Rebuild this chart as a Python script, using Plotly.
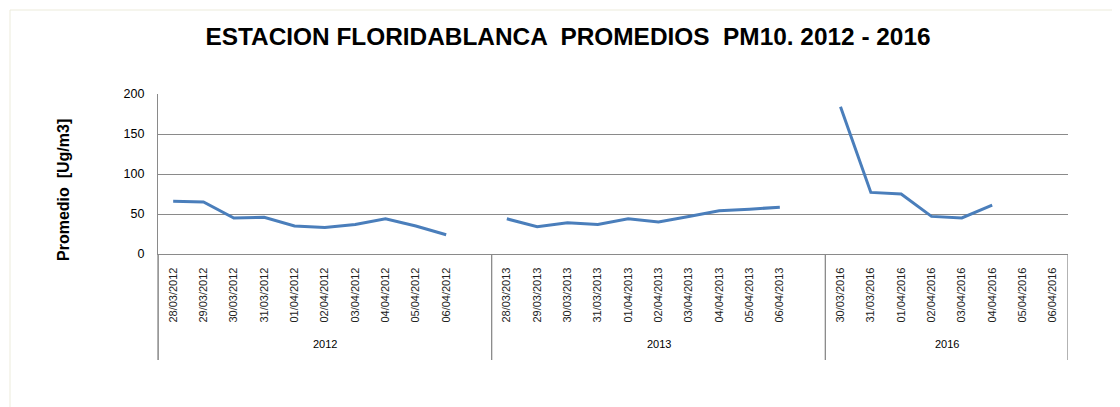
import plotly.graph_objects as go

# ---------------- data ----------------
years = ["2012", "2013", "2016"]

dates_2012 = ["28/03/2012", "29/03/2012", "30/03/2012", "31/03/2012", "01/04/2012",
              "02/04/2012", "03/04/2012", "04/04/2012", "05/04/2012", "06/04/2012"]
vals_2012 = [66, 65, 45, 46, 35, 33, 37, 44, 35, 24]

dates_2013 = ["28/03/2013", "29/03/2013", "30/03/2013", "31/03/2013", "01/04/2013",
              "02/04/2013", "03/04/2013", "04/04/2013", "05/04/2013", "06/04/2013"]
vals_2013 = [44, 34, 39, 37, 44, 40, 47, 54, 56, 58.5]

dates_2016 = ["30/03/2016", "31/03/2016", "01/04/2016", "02/04/2016",
              "03/04/2016", "04/04/2016", "05/04/2016", "06/04/2016"]
vals_2016 = [184, 77, 75, 47, 45, 61, None, None]

# empty category slots at the end of each group (as in the source sheet)
blank_slots = [1, 1, 0]

# ---------------- build category axis ----------------
labels, values, bounds = [], [], []
for dates, vals, pad in [(dates_2012, vals_2012, blank_slots[0]),
                         (dates_2013, vals_2013, blank_slots[1]),
                         (dates_2016, vals_2016, blank_slots[2])]:
    start = len(labels)
    labels += dates + [""] * pad
    values += list(vals) + [None] * pad
    bounds.append((start - 0.5, len(labels) - 0.5))

xs = list(range(len(labels)))

GRID = "#8a8a8a"
FONT = "Liberation Sans, Arial, sans-serif"

# page offset of the plot div (body margin) -> work in div coordinates
OFF = 8
W, H = 1120 - OFF, 407 - OFF
PL, PR, PT, PB = 158 - OFF, 1068 - OFF, 94 - OFF, 254 - OFF  # plot box in div px
PW, PH = PR - PL, PB - PT


def px(xp):  # page x -> paper x
    return (xp - OFF - PL) / PW


def py(yp):  # page y -> paper y
    return (PB - (yp - OFF)) / PH


fig = go.Figure()
fig.add_trace(go.Scatter(
    x=xs, y=values, mode="lines", connectgaps=False,
    line=dict(color="#4A7EBB", width=3), showlegend=False,
))

shapes = []
div_bottom = py(360)
edges = sorted(set([b[0] for b in bounds] + [b[1] for b in bounds]))
for e in edges:
    shapes.append(dict(type="line", xref="x", yref="paper", x0=e, x1=e,
                       y0=div_bottom, y1=0, line=dict(color=GRID, width=1.3)))
# left axis line continues through the label area
shapes.append(dict(type="line", xref="paper", yref="paper", x0=0, x1=0, y0=div_bottom, y1=0,
                   line=dict(color=GRID, width=1.3)))

# faint worksheet border
shapes.append(dict(type="line", xref="paper", yref="paper",
                   x0=px(10), x1=px(1120), y0=py(10), y1=py(10),
                   line=dict(color="#ecebdb", width=1)))
shapes.append(dict(type="line", xref="paper", yref="paper",
                   x0=px(10), x1=px(10), y0=py(10), y1=py(407),
                   line=dict(color="#ecebdb", width=1)))

annotations = []
for yr, (a, b) in zip(years, bounds):
    annotations.append(dict(x=(a + b) / 2, y=py(344), xref="x", yref="paper",
                            text=yr, showarrow=False, yanchor="middle",
                            font=dict(family=FONT, size=11, color="#000000")))

annotations.append(dict(x=px(63), y=py(190), xref="paper", yref="paper",
                        text="<b>Promedio  [Ug/m3]</b>", textangle=-90, showarrow=False,
                        xanchor="center", yanchor="middle",
                        font=dict(family=FONT, size=16, color="#000000")))

fig.update_layout(
    width=W, height=H,
    margin=dict(l=PL, r=W - PR, t=PT, b=H - PB),
    paper_bgcolor="white", plot_bgcolor="white",
    title=dict(text="<b>ESTACION FLORIDABLANCA  PROMEDIOS  PM10. 2012 - 2016</b>",
               x=(568 - OFF) / W, xref="container", xanchor="center",
               y=1 - (36 - OFF) / H, yref="container", yanchor="middle",
               font=dict(family=FONT, size=24.4, color="#000000")),
    xaxis=dict(range=[-0.5, len(labels) - 0.5], tickmode="array", tickvals=xs, ticktext=labels,
               tickangle=-90, tickfont=dict(family=FONT, size=11, color="#222222"),
               showgrid=False, zeroline=False, showline=True, linecolor=GRID, linewidth=1.3,
               ticks="", ticklabelstandoff=8, fixedrange=True),
    yaxis=dict(range=[0, 200], dtick=50, tick0=0, showgrid=True, gridcolor=GRID, gridwidth=1,
               zeroline=False, showline=True, linecolor=GRID, linewidth=1.3,
               ticks="", ticklabelstandoff=10,
               tickfont=dict(family=FONT, size=12.5, color="#000000")),
    shapes=shapes, annotations=annotations,
    showlegend=False,
)

fig.write_html("out.html")
